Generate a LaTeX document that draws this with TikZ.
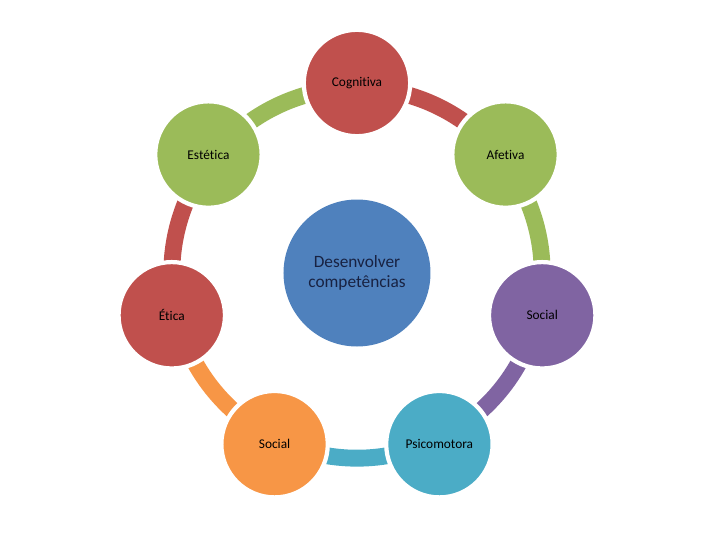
\documentclass[tikz,border=0pt]{standalone}
\usepackage{fontspec}
\setmainfont{Carlito}[Ligatures=NoCommon]
\usetikzlibrary{backgrounds}

\definecolor{petalred}{RGB}{192,80,77}
\definecolor{petalgreen}{RGB}{155,187,89}
\definecolor{petalpurple}{RGB}{128,100,162}
\definecolor{petalteal}{RGB}{75,172,198}
\definecolor{petalorange}{RGB}{247,150,70}
\definecolor{hubblue}{RGB}{79,129,189}
\definecolor{hubtext}{RGB}{24,34,66}

\begin{document}
\begin{tikzpicture}[
    petal/.style={circle, fill=#1, draw=white, line width=3pt, minimum size=2.66cm, inner sep=0pt, font=\fontsize{9.5}{11}\selectfont},
    band/.style={line width=12pt, #1}
]
    \useasboundingbox (-8.925, -6.675) rectangle (9.075, 6.825);

    % Central circle
    \node[circle, fill=hubblue, minimum size=3.675cm, inner sep=0pt, align=center, text=hubtext, font=\fontsize{12.3}{14.5}\selectfont] (hub) at (0, 0) {Desenvolver\\competências};

    % Outer circles
    \node[petal=petalred] (cognitiva) at (90:4.75) {Cognitiva};
    \node[petal=petalgreen] (afetiva) at (38.57:4.75) {Afetiva};
    \node[petal=petalpurple] (socialR) at (-12.86:4.75) {Social};
    \node[petal=petalteal] (psicomotora) at (-64.29:4.75) {Psicomotora};
    \node[petal=petalorange] (socialL) at (-115.71:4.75) {Social};
    \node[petal=petalred] (etica) at (192.86:4.75) {Ética};
    \node[petal=petalgreen] (estetica) at (141.43:4.75) {Estética};

    % Ring segments
    \begin{scope}[on background layer]
        \draw[band=petalred] ([shift={(90:4.63)}]hub.center) arc[start angle=90, end angle=38.57, radius=4.63];
        \draw[band=petalgreen] ([shift={(38.57:4.63)}]hub.center) arc[start angle=38.57, end angle=-12.86, radius=4.63];
        \draw[band=petalpurple] ([shift={(-12.86:4.63)}]hub.center) arc[start angle=-12.86, end angle=-64.29, radius=4.63];
        \draw[band=petalteal] ([shift={(-64.29:4.63)}]hub.center) arc[start angle=-64.29, end angle=-115.71, radius=4.63];
        \draw[band=petalorange] ([shift={(-115.71:4.63)}]hub.center) arc[start angle=-115.71, end angle=-167.14, radius=4.63];
        \draw[band=petalred] ([shift={(192.86:4.63)}]hub.center) arc[start angle=192.86, end angle=141.43, radius=4.63];
        \draw[band=petalgreen] ([shift={(141.43:4.63)}]hub.center) arc[start angle=141.43, end angle=90, radius=4.63];
    \end{scope}
\end{tikzpicture}
\end{document}
